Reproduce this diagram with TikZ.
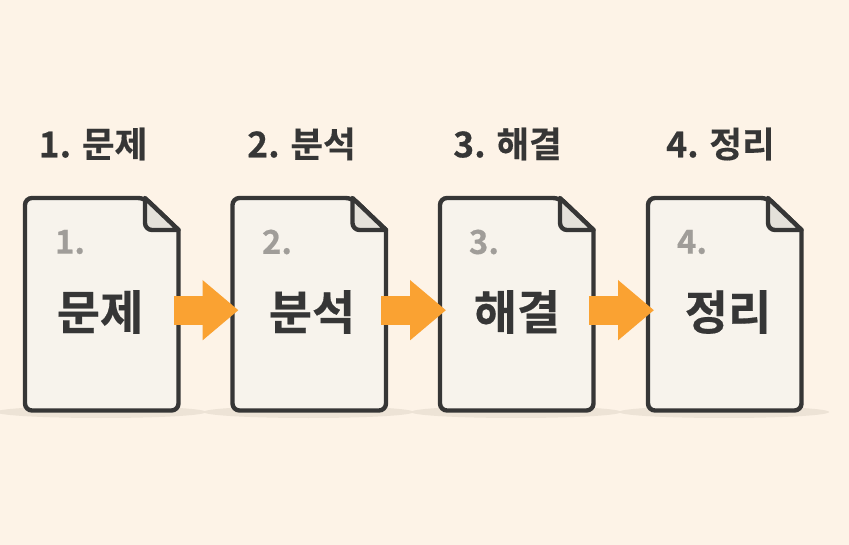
\documentclass[tikz,border=0pt]{standalone}
\usepackage{fontspec}
\setmainfont[FakeBold=0.4]{Noto Sans CJK KR Bold}
\usetikzlibrary{arrows.meta}
\definecolor{paper}{HTML}{FDF3E7}
\definecolor{sheet}{HTML}{F7F3EC}
\definecolor{ink}{HTML}{363636}
\definecolor{foldcol}{HTML}{E4E1DA}
\definecolor{flow}{HTML}{FAA232}
\definecolor{shadowcol}{HTML}{EDE3D6}
\definecolor{numcol}{HTML}{A09D99}
\tikzset{
  docbox/.style={minimum width=153.5pt,minimum height=212pt,inner sep=0pt},
  docline/.style={draw=ink,line width=4.4pt,rounded corners=7pt,fill=sheet},
  foldline/.style={draw=ink,line width=4.4pt,line join=round,fill=foldcol},
  title/.style={text=ink,font=\fontsize{35.5}{36}\selectfont},
  word/.style={text=ink,font=\fontsize{47}{47}\selectfont},
  num/.style={text=numcol,font=\fontsize{33}{33}\selectfont},
  flowline/.style={draw=flow,line width=29pt,-{Triangle[length=36pt,width=58pt]}}
}
\begin{document}
\begin{tikzpicture}[x=1pt,y=-1pt]
\fill[paper] (0,0) rectangle (849,545);
\useasboundingbox (0,0) rectangle (849,545);
\foreach \i/\x/\name/\tx/\wx/\nx in {1/25/문제/93/100/70,2/232.5/분석/301.5/312/277,3/440/해결/507.5/517/484,4/648/정리/720.5/728/692}{
  \fill[shadowcol] (\x+76,412) ellipse [x radius=105,y radius=6];
  \node[docbox,anchor=north west] (doc\i) at (\x,198) {};
  \draw[docline] (\x,198) -- (\x+120,198) [sharp corners] -- (\x+153.5,230) [rounded corners=7pt] -- (\x+153.5,410.5) -- (\x,410.5) -- cycle;
  \draw[foldline] (\x+120,198) [rounded corners=7pt] -- (\x+120,230) [sharp corners] -- (\x+153.5,230) -- cycle;
  \node[title] (title\i) at (\tx,144) {\i. \name};
  \node[num] (num\i) at (\nx,242) {\i.};
  \node[word] (word\i) at (\wx,312) {\name};
}
% arrows on top of the sheets
\foreach \i/\j in {1/2,2/3,3/4}{
  \draw[flowline,shorten <=-5pt,shorten >=-6pt] ([yshift=-6pt]doc\i.east) -- ([yshift=-6pt]doc\j.west);
}
\end{tikzpicture}
\end{document}
